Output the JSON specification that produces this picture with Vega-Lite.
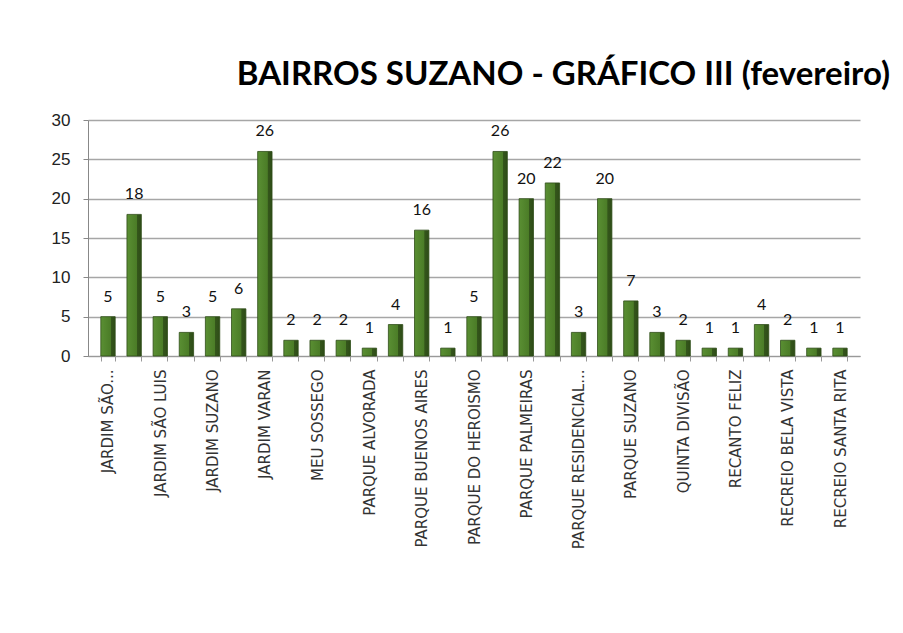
{
  "$schema": "https://vega.github.io/schema/vega-lite/v6.json",
  "width": 772,
  "height": 236,
  "autosize": {"type": "none"},
  "padding": {"left": 88, "top": 120, "right": 43, "bottom": 277},
  "background": "white",
  "title": {
    "text": "BAIRROS SUZANO - GRÁFICO III (fevereiro)",
    "anchor": "end",
    "frame": "group",
    "dx": 30,
    "offset": 19,
    "font": "Lato",
    "fontSize": 33,
    "fontWeight": "bold",
    "color": "#000000"
  },
  "data": {
    "values": [
      {"bairro": "JARDIM SÃO...", "total": 5},
      {"bairro": "JARDIM SÃO JOSÉ", "total": 18},
      {"bairro": "JARDIM SÃO LUIS", "total": 5},
      {"bairro": "JARDIM SÃO PAULO", "total": 3},
      {"bairro": "JARDIM SUZANO", "total": 5},
      {"bairro": "JARDIM UBIRAJARA", "total": 6},
      {"bairro": "JARDIM VARAN", "total": 26},
      {"bairro": "JARDIM VITÓRIA", "total": 2},
      {"bairro": "MEU SOSSEGO", "total": 2},
      {"bairro": "PARQUE ALMERINDA", "total": 2},
      {"bairro": "PARQUE ALVORADA", "total": 1},
      {"bairro": "PARQUE BELA VISTA", "total": 4},
      {"bairro": "PARQUE BUENOS AIRES", "total": 16},
      {"bairro": "PARQUE CASA BRANCA", "total": 1},
      {"bairro": "PARQUE DO HEROISMO", "total": 5},
      {"bairro": "PARQUE MARIA HELENA", "total": 26},
      {"bairro": "PARQUE PALMEIRAS", "total": 20},
      {"bairro": "PARQUE PINHEIROS", "total": 22},
      {"bairro": "PARQUE RESIDENCIAL...", "total": 3},
      {"bairro": "PARQUE SANTA ROSA", "total": 20},
      {"bairro": "PARQUE SUZANO", "total": 7},
      {"bairro": "PARQUE VARAN", "total": 3},
      {"bairro": "QUINTA DIVISÃO", "total": 2},
      {"bairro": "RECANTO DOS PÁSSAROS", "total": 1},
      {"bairro": "RECANTO FELIZ", "total": 1},
      {"bairro": "RECANTO SUZANO", "total": 4},
      {"bairro": "RECREIO BELA VISTA", "total": 2},
      {"bairro": "RECREIO ESTORIL", "total": 1},
      {"bairro": "RECREIO SANTA RITA", "total": 1}
    ]
  },
  "encoding": {
    "x": {
      "field": "bairro",
      "type": "nominal",
      "sort": null,
      "scale": {"paddingInner": 0.45, "paddingOuter": 0.49},
      "axis": {
        "title": null,
        "labelAngle": -90,
        "labelFont": "DejaVu Sans",
        "labelFontSize": 15,
        "labelColor": "#333333",
        "labelPadding": 8,
        "labelLimit": 300,
        "labelExpr": "indexof(domain('x'), datum.value) % 2 == 1 ? '' : datum.label",
        "tickBand": "extent",
        "tickColor": "#999999",
        "tickSize": 5,
        "domainColor": "#999999"
      }
    },
    "y": {
      "field": "total",
      "type": "quantitative",
      "scale": {"domain": [0, 30]},
      "axis": {
        "title": null,
        "values": [0, 5, 10, 15, 20, 25, 30],
        "labelFont": "Liberation Sans",
        "labelFontSize": 17,
        "labelColor": "#222222",
        "labelPadding": 13,
        "tickColor": "#888888",
        "tickSize": 5,
        "domainColor": "#888888",
        "gridColor": "#a6a6a6",
        "gridWidth": 1.5
      }
    }
  },
  "layer": [
    {
      "mark": {
        "type": "bar",
        "fill": {
          "gradient": "linear",
          "x1": 0, "x2": 1, "y1": 0, "y2": 0,
          "stops": [
            {"offset": 0, "color": "#5a8f33"},
            {"offset": 0.68, "color": "#4b7c27"},
            {"offset": 0.7, "color": "#34561b"},
            {"offset": 1, "color": "#2e4c17"}
          ]
        },
        "stroke": "#2f4d18",
        "strokeWidth": 0.8
      }
    },
    {
      "mark": {
        "type": "text",
        "dy": -12,
        "baseline": "bottom",
        "font": "Lato",
        "fontSize": 16,
        "color": "#111111"
      },
      "encoding": {"text": {"field": "total", "type": "quantitative"}}
    }
  ],
  "config": {"view": {"stroke": null}}
}
